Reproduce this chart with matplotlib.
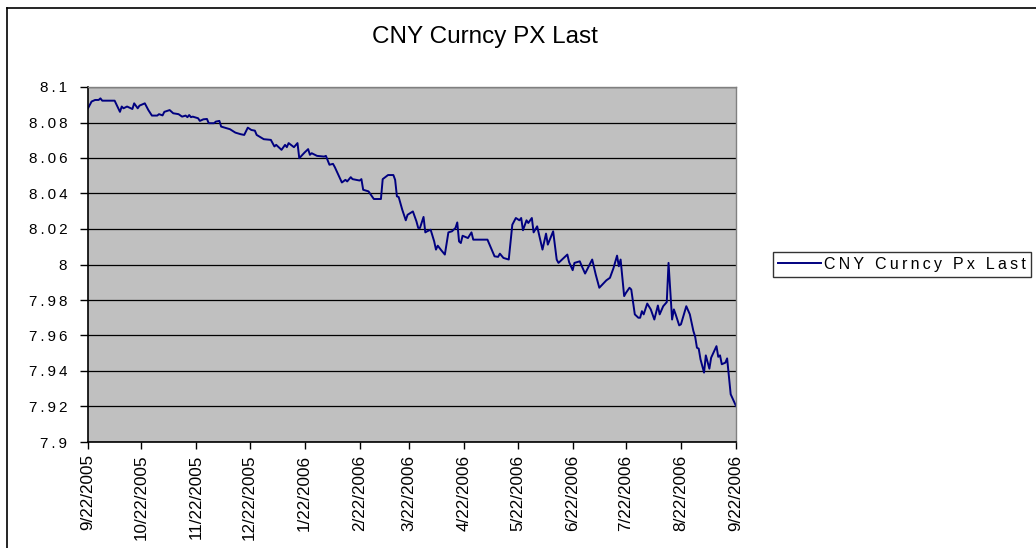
import matplotlib
matplotlib.use("Agg")
import matplotlib.pyplot as plt
import matplotlib.dates as mdates
from matplotlib.ticker import FuncFormatter, MultipleLocator
from matplotlib.lines import Line2D
import pandas as pd

TITLE = "CNY Curncy PX Last"
SERIES_NAME = "CNY Curncy Px Last"
START_DATE = "2005-09-22"
END_DATE = "2006-09-22"

# days after 9/22/2005
day_offsets = [
    0, 2, 4, 6, 7, 8, 15, 18, 19, 20, 22, 25, 26, 28, 29, 32, 34, 36, 39, 40,
    42, 43, 46, 48, 51, 53, 55, 56, 57, 58, 59, 62, 63, 65, 67, 68, 71, 72, 74, 75,
    77, 80, 83, 86, 88, 90, 92, 94, 95, 99, 103, 105, 106, 109, 111, 112, 113, 116, 118, 119,
    122, 124, 125, 126, 129, 133, 134, 136, 138, 139, 141, 143, 145, 146, 148, 149, 153, 154, 155, 158,
    161, 165, 166, 169, 172, 173, 174, 175, 177, 179, 180, 183, 185, 186, 187, 189, 190, 191, 193, 195,
    196, 197, 199, 201, 203, 205, 207, 208, 209, 210, 211, 214, 216, 217, 225, 227, 229, 231, 232, 234,
    237, 239, 241, 243, 244, 245, 247, 248, 250, 251, 253, 256, 258, 259, 262, 264, 265, 270, 271, 273,
    274, 277, 278, 280, 284, 286, 288, 292, 294, 296, 298, 299, 300, 302, 303, 305, 306, 308, 310, 311,
    312, 313, 315, 317, 319, 321, 322, 324, 326, 327, 329, 330, 331, 333, 334, 337, 339, 341, 342, 343,
    344, 345, 347, 348, 350, 351, 354, 355, 356, 357, 359, 360, 362, 365,
]
px_last = [
    8.0880, 8.0918, 8.0927, 8.0927, 8.0936, 8.0923, 8.0923, 8.0860, 8.0890, 8.0880,
    8.0890, 8.0876, 8.0908, 8.0880, 8.0895, 8.0908, 8.0870, 8.0839, 8.0839, 8.0847,
    8.0840, 8.0860, 8.0870, 8.0852, 8.0847, 8.0833, 8.0839, 8.0830, 8.0842, 8.0830,
    8.0833, 8.0824, 8.0809, 8.0818, 8.0820, 8.0796, 8.0796, 8.0805, 8.0809, 8.0777,
    8.0771, 8.0762, 8.0743, 8.0734, 8.0730, 8.0771, 8.0758, 8.0754, 8.0730, 8.0706,
    8.0702, 8.0665, 8.0674, 8.0646, 8.0674, 8.0661, 8.0684, 8.0661, 8.0684, 8.0599,
    8.0631, 8.0650, 8.0618, 8.0627, 8.0612, 8.0608, 8.0612, 8.0562, 8.0567, 8.0549,
    8.0505, 8.0462, 8.0477, 8.0468, 8.0492, 8.0481, 8.0473, 8.0481, 8.0421, 8.0412,
    8.0369, 8.0369, 8.0481, 8.0504, 8.0504, 8.0477, 8.0384, 8.0380, 8.0309, 8.0249,
    8.0280, 8.0299, 8.0243, 8.0206, 8.0206, 8.0268, 8.0181, 8.0187, 8.0196, 8.0130,
    8.0084, 8.0106, 8.0080, 8.0056, 8.0181, 8.0187, 8.0206, 8.0237, 8.0130, 8.0121,
    8.0162, 8.0149, 8.0181, 8.0140, 8.0140, 8.0093, 8.0046, 8.0043, 8.0061, 8.0037,
    8.0028, 8.0224, 8.0262, 8.0249, 8.0262, 8.0193, 8.0249, 8.0234, 8.0262, 8.0181,
    8.0215, 8.0084, 8.0174, 8.0112, 8.0187, 8.0028, 8.0009, 8.0056, 8.0013, 7.9968,
    8.0009, 8.0018, 7.9994, 7.9949, 8.0028, 7.9943, 7.9869, 7.9911, 7.9925, 7.9980,
    8.0050, 7.9990, 8.0028, 7.9822, 7.9840, 7.9869, 7.9859, 7.9719, 7.9700, 7.9700,
    7.9737, 7.9719, 7.9780, 7.9747, 7.9690, 7.9769, 7.9719, 7.9765, 7.9788, 8.0009,
    7.9690, 7.9747, 7.9719, 7.9657, 7.9663, 7.9765, 7.9719, 7.9625, 7.9593, 7.9531,
    7.9526, 7.9466, 7.9391, 7.9488, 7.9413, 7.9475, 7.9540, 7.9480, 7.9488, 7.9438,
    7.9447, 7.9471, 7.9269, 7.9203,
]
assert len(day_offsets) == len(px_last)

Y_MIN, Y_MAX, Y_STEP = 7.9, 8.1, 0.02

dates = pd.Timestamp(START_DATE) + pd.to_timedelta(day_offsets, unit="D")

FONT = ["Liberation Sans", "DejaVu Sans"]
plt.rcParams["font.family"] = FONT
TS = "\u2009"  # letter spacing like Excel


def spaced(s):
    return TS.join(list(s))


W, H = 1036, 548
fig = plt.figure(figsize=(W / 100, H / 100), dpi=100)
fig.patch.set_facecolor("white")

ax = fig.add_axes([88 / W, 1 - 442 / H, (736 - 88) / W, (442 - 87) / H])
ax.set_facecolor("#C0C0C0")
ax.plot(dates, px_last, color="#000080", lw=1.4, label=spaced(SERIES_NAME))

ax.set_xlim(pd.Timestamp(START_DATE), pd.Timestamp(END_DATE))
ax.set_ylim(Y_MIN, Y_MAX)
ax.yaxis.set_major_locator(MultipleLocator(Y_STEP))


def yfmt(v, pos):
    s = f"{v:.2f}".rstrip("0").rstrip(".")
    return spaced(s)


ax.yaxis.set_major_formatter(FuncFormatter(yfmt))
ax.xaxis.set_major_locator(mdates.MonthLocator(bymonthday=22))


def xfmt(v, pos):
    d = mdates.num2date(v)
    return f"{d.month}/{d.day}/{d.year}"


ax.xaxis.set_major_formatter(FuncFormatter(xfmt))
ax.grid(axis="y", color="black", lw=0.9)
ax.set_axisbelow(True)
ax.tick_params(axis="x", direction="out", length=5, width=1, color="black",
               labelsize=12.3, rotation=90, pad=4)
ax.tick_params(axis="y", direction="out", length=6, width=1, color="black",
               labelsize=11, pad=9)
for side in ("top", "right"):
    ax.spines[side].set_color("#808080")
    ax.spines[side].set_linewidth(1)
for side in ("left", "bottom"):
    ax.spines[side].set_color("black")
    ax.spines[side].set_linewidth(1.2)

fig.text(484.5 / W, 1 - 37 / H, TITLE, ha="center", va="center", fontsize=17.5)

leg = fig.legend(loc="center left", bbox_to_anchor=(773 / W, 1 - 264.5 / H),
                 frameon=True, fancybox=False, fontsize=11.5, handlelength=2.7,
                 handletextpad=0.2, borderpad=0.3, borderaxespad=0)
leg.get_frame().set_edgecolor("black")
leg.get_frame().set_linewidth(1)

# chart area border (left and top edges visible)
fig.add_artist(Line2D([7 / W, 7 / W], [0, 1 - 8 / H], color="black", lw=1.2,
                      transform=fig.transFigure))
fig.add_artist(Line2D([7 / W, 1], [1 - 8 / H, 1 - 8 / H], color="black", lw=1.2,
                      transform=fig.transFigure))

fig.savefig("out.png", dpi=100)
